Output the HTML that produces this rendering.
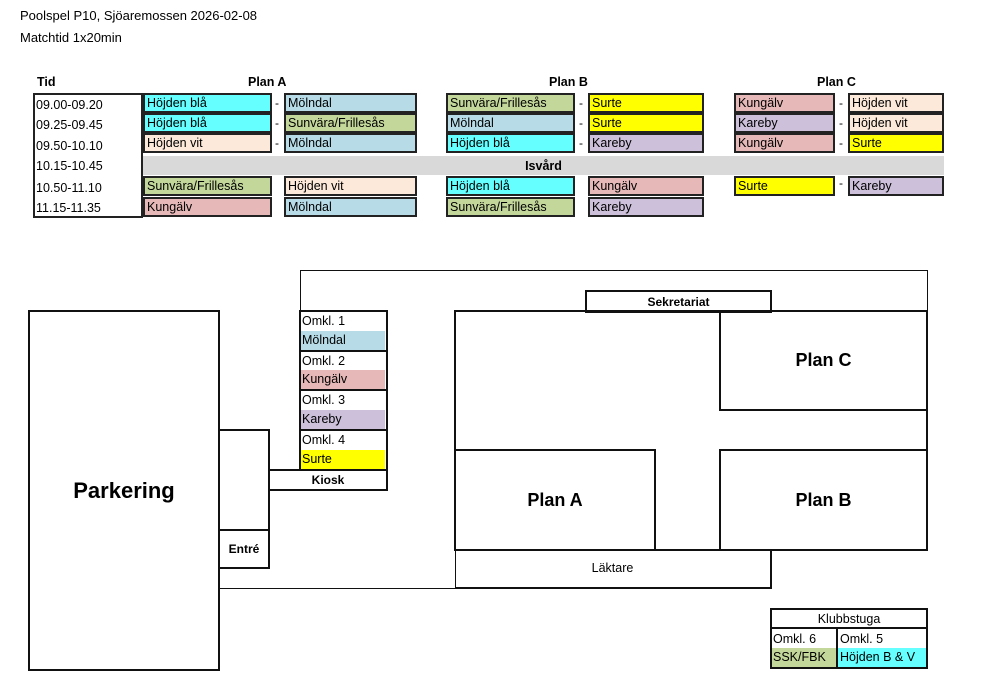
<!DOCTYPE html>
<html><head><meta charset="utf-8"><style>
body{margin:0;width:1000px;height:687px;background:#fff;position:relative;overflow:hidden;font-family:"Liberation Sans",sans-serif;color:#000}
div{position:absolute;box-sizing:border-box}
.t{font-size:13px;white-space:nowrap}
.c{border:2px solid #222;font-size:12.5px;line-height:16px;padding-left:2px;white-space:nowrap;height:20px}
.d{font-size:12px}
.b{font-weight:bold}
.cy{background:#66ffff}.mo{background:#b7dce8}.gr{background:#c4d79b}.ye{background:#ffff00}.pk{background:#e6b8b7}.vi{background:#fde9d9}.la{background:#ccc0da}
.box{border:2px solid #111}
.ln{background:#111}
.cen{display:flex;align-items:center;justify-content:center}
</style></head><body>
<div class="t" style="left:20px;top:8px">Poolspel P10, Sjöaremossen 2026-02-08</div>
<div class="t" style="left:20px;top:30px">Matchtid 1x20min</div>

<div class="t b" style="left:37px;top:75px;font-size:12.5px">Tid</div>
<div class="t b" style="left:248px;top:75px;font-size:12.5px">Plan A</div>
<div class="t b" style="left:549px;top:75px;font-size:12.5px">Plan B</div>
<div class="t b" style="left:817px;top:75px;font-size:12.5px">Plan C</div>

<div style="left:33px;top:93px;width:110px;height:125px;border:2px solid #222"></div>
<div class="t" style="left:36px;top:95px;font-size:12.5px;line-height:20.3px">09.00-09.20<br>09.25-09.45<br>09.50-10.10<br>10.15-10.45<br><span style="position:relative;top:2px">10.50-11.10</span><br><span style="position:relative;top:2px">11.15-11.35</span></div>

<div class="c cy" style="left:143px;top:93px;width:129px">Höjden blå</div>
<div class="c mo" style="left:284px;top:93px;width:133px">Mölndal</div>
<div class="c gr" style="left:446px;top:93px;width:129px">Sunvära/Frillesås</div>
<div class="c ye" style="left:588px;top:93px;width:116px">Surte</div>
<div class="c pk" style="left:734px;top:93px;width:101px">Kungälv</div>
<div class="c vi" style="left:848px;top:93px;width:96px">Höjden vit</div>
<div class="c cy" style="left:143px;top:113px;width:129px">Höjden blå</div>
<div class="c gr" style="left:284px;top:113px;width:133px">Sunvära/Frillesås</div>
<div class="c mo" style="left:446px;top:113px;width:129px">Mölndal</div>
<div class="c ye" style="left:588px;top:113px;width:116px">Surte</div>
<div class="c la" style="left:734px;top:113px;width:101px">Kareby</div>
<div class="c vi" style="left:848px;top:113px;width:96px">Höjden vit</div>
<div class="c vi" style="left:143px;top:133px;width:129px">Höjden vit</div>
<div class="c mo" style="left:284px;top:133px;width:133px">Mölndal</div>
<div class="c cy" style="left:446px;top:133px;width:129px">Höjden blå</div>
<div class="c la" style="left:588px;top:133px;width:116px">Kareby</div>
<div class="c pk" style="left:734px;top:133px;width:101px">Kungälv</div>
<div class="c ye" style="left:848px;top:133px;width:96px">Surte</div>
<div class="t d" style="left:275px;top:93px;line-height:20px">-<br>-<br>-</div>
<div class="t d" style="left:579px;top:93px;line-height:20px">-<br>-<br>-</div>
<div class="t d" style="left:839px;top:93px;line-height:20px">-<br>-<br>-</div>
<div class="t d" style="left:839px;top:176px">-</div>
<div class="cen b" style="left:143px;top:156px;width:801px;height:19px;background:#d9d9d9;font-size:12.5px">Isvård</div>
<div class="c gr" style="left:143px;top:176px;width:129px">Sunvära/Frillesås</div>
<div class="c vi" style="left:284px;top:176px;width:133px">Höjden vit</div>
<div class="c cy" style="left:446px;top:176px;width:129px">Höjden blå</div>
<div class="c pk" style="left:588px;top:176px;width:116px">Kungälv</div>
<div class="c ye" style="left:734px;top:176px;width:101px">Surte</div>
<div class="c la" style="left:848px;top:176px;width:96px">Kareby</div>
<div class="c pk" style="left:143px;top:197px;width:129px">Kungälv</div>
<div class="c mo" style="left:284px;top:197px;width:133px">Mölndal</div>
<div class="c gr" style="left:446px;top:197px;width:129px">Sunvära/Frillesås</div>
<div class="c la" style="left:588px;top:197px;width:116px">Kareby</div>

<div class="ln" style="left:300px;top:270px;width:628px;height:1px"></div>
<div class="ln" style="left:300px;top:270px;width:1px;height:42px"></div>
<div class="ln" style="left:927px;top:270px;width:1px;height:42px"></div>
<div class="ln" style="left:219px;top:588px;width:237px;height:1px"></div>
<div class="ln" style="left:455px;top:549px;width:1px;height:40px"></div>

<div class="box cen b" style="left:28px;top:310px;width:192px;height:361px;font-size:22px">Parkering</div>
<div class="box" style="left:218px;top:429px;width:52px;height:140px"></div>
<div class="box cen b" style="left:218px;top:529px;width:52px;height:40px;font-size:12px">Entré</div>
<div class="box cen b" style="left:268px;top:469px;width:120px;height:22px;font-size:12px">Kiosk</div>

<div class="box" style="left:299px;top:310px;width:89px;height:161px;background:#fff"></div>
<div class="t" style="left:301px;top:312px;width:84px;height:19px;font-size:12.5px;line-height:19px;padding-left:1px">Omkl. 1</div>
<div class="t mo" style="left:301px;top:331px;width:84px;height:19px;font-size:12.5px;line-height:19px;padding-left:1px">Mölndal</div>
<div class="ln" style="left:299px;top:350px;width:89px;height:2px"></div>
<div class="t" style="left:301px;top:352px;width:84px;height:18px;font-size:12.5px;line-height:18px;padding-left:1px">Omkl. 2</div>
<div class="t pk" style="left:301px;top:370px;width:84px;height:19px;font-size:12.5px;line-height:19px;padding-left:1px">Kungälv</div>
<div class="ln" style="left:299px;top:389px;width:89px;height:2px"></div>
<div class="t" style="left:301px;top:391px;width:84px;height:19px;font-size:12.5px;line-height:19px;padding-left:1px">Omkl. 3</div>
<div class="t la" style="left:301px;top:410px;width:84px;height:19px;font-size:12.5px;line-height:19px;padding-left:1px">Kareby</div>
<div class="ln" style="left:299px;top:429px;width:89px;height:2px"></div>
<div class="t" style="left:301px;top:431px;width:84px;height:19px;font-size:12.5px;line-height:19px;padding-left:1px">Omkl. 4</div>
<div class="t ye" style="left:301px;top:450px;width:84px;height:19px;font-size:12.5px;line-height:19px;padding-left:1px">Surte</div>

<div class="box cen b" style="left:585px;top:290px;width:187px;height:23px;font-size:12px">Sekretariat</div>
<div class="box" style="left:454px;top:310px;width:474px;height:241px"></div>
<div class="box cen b" style="left:719px;top:310px;width:209px;height:101px;font-size:18px">Plan C</div>
<div class="box cen b" style="left:454px;top:449px;width:202px;height:102px;font-size:18px">Plan A</div>
<div class="box cen b" style="left:719px;top:449px;width:209px;height:102px;font-size:18px">Plan B</div>
<div class="cen" style="left:455px;top:549px;width:317px;height:40px;border-right:2px solid #111;border-bottom:2px solid #111;font-size:12.5px">Läktare</div>

<div class="box" style="left:770px;top:608px;width:158px;height:61px"></div>
<div class="cen" style="left:772px;top:610px;width:154px;height:18px;font-size:12.5px">Klubbstuga</div>
<div class="ln" style="left:770px;top:627px;width:158px;height:2px"></div>
<div class="ln" style="left:836px;top:627px;width:2px;height:42px"></div>
<div class="t" style="left:773px;top:630px;font-size:12.5px;line-height:18px">Omkl. 6</div>
<div class="t" style="left:840px;top:630px;font-size:12.5px;line-height:18px">Omkl. 5</div>
<div class="t gr" style="left:772px;top:648px;width:64px;height:19px;font-size:12.5px;line-height:19px;padding-left:1px">SSK/FBK</div>
<div class="t cy" style="left:838px;top:648px;width:88px;height:19px;font-size:12.5px;line-height:19px;padding-left:2px">Höjden B &amp; V</div>
</body></html>
